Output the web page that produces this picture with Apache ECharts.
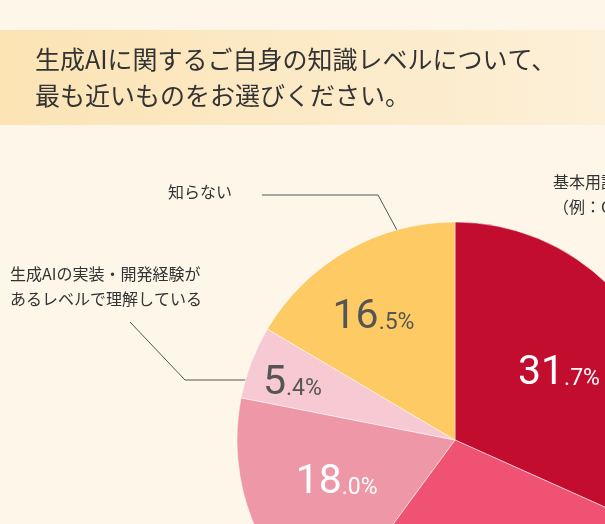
<!DOCTYPE html>
<html><head><meta charset="utf-8">
<script src="https://cdn.jsdelivr.net/npm/echarts@6/dist/echarts.min.js"></script>
<style>html,body{margin:0;padding:0;background:#fdf6e9}#c{width:605px;height:524px}</style>
</head><body><div id="c"></div>
<script>
const titleLines = ['生成AIに関するご自身の知識レベルについて、', '最も近いものをお選びください。'];
const categories = ['基本用語を理解している', 'その他', '少し知っている', '生成AIの実装・開発経験があるレベルで理解している', '知らない'];
const values = [31.7, 28.4, 18.0, 5.4, 16.5];
const colors = ['#c30d2f', '#ef5273', '#ee97a7', '#f6c9d3', '#fdca63'];
const labelColors = ['#fff', '#fff', '#fff', '#555', '#555'];
const offsets = [[10, -5], [0, 0], [-14, 2], [-58, -16], [-26, -25]];

function fmt(v){const s=v.toFixed(1).split('.');return '{a|'+s[0]+'}{b|.'+s[1]+'%}';}
const chart = echarts.init(document.getElementById('c'));
chart.setOption({
  backgroundColor: '#fdf6e9',
  graphic: [
    {type:'rect', shape:{x:0,y:30,width:605,height:95}, style:{fill:new echarts.graphic.LinearGradient(0,0,1,0,[{offset:0,color:'#fbe3b4'},{offset:1,color:'#fdf0d8'}])}, z:0},
    {type:'text', left:35, top:47, style:{text:titleLines[0], font:'25px "Noto Sans CJK JP"', fill:'#333'}},
    {type:'text', left:35, top:83, style:{text:titleLines[1], font:'25px "Noto Sans CJK JP"', fill:'#333'}},
    {type:'text', left:168, top:184, style:{text:'知らない', font:'16px "Noto Sans CJK JP"', fill:'#333'}},
    {type:'polyline', shape:{points:[[262,195],[378,195],[405,245]]}, style:{stroke:'#555',lineWidth:1,fill:null}},
    {type:'text', left:10, top:261, style:{text:'生成AIの実装・開発経験が\nあるレベルで理解している', font:'16px "Noto Sans CJK JP"', lineHeight:25, fill:'#333'}},
    {type:'polyline', shape:{points:[[130,322],[185,380],[248,380]]}, style:{stroke:'#555',lineWidth:1,fill:null}},
    {type:'text', left:553, top:169, style:{text:'基本用語を理解している\n（例：ChatGPT）', font:'16px "Noto Sans CJK JP"', lineHeight:25, fill:'#333'}}
  ],
  series:[{
    type:'pie', center:[455,440], radius:[0,218], startAngle:90, clockwise:true, silent:true,
    itemStyle:{borderColor:'#fff', borderWidth:0.5},
    label:{position:'inside', formatter:p=>fmt(p.value)},
    data: values.map((v,i)=>({name:categories[i], value:v,
      itemStyle:{color:colors[i]},
      label:{color:labelColors[i], offset:offsets[i], show:i!==1,
        rich:{a:{color:labelColors[i],fontSize:41,fontFamily:'Roboto'}, b:{color:labelColors[i],fontSize:23,fontFamily:'Roboto',padding:[11,0,0,0]}}}}))
  }]
});
</script></body></html>
